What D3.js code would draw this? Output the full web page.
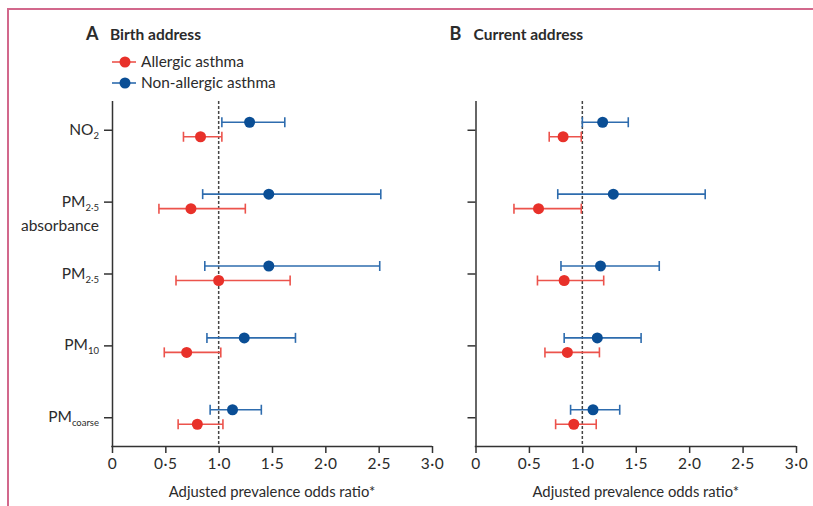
<!DOCTYPE html>
<html>
<head>
<meta charset="utf-8">
<script src="https://cdn.jsdelivr.net/npm/d3@7"></script>
<style>
  body { margin: 0; background: #fff; }
  svg { display: block; font-family: Lato, "Open Sans", sans-serif; }
</style>
</head>
<body>
<svg width="813" height="506"></svg>
<script>
// pollutant rows, top to bottom
let pollutants = ['NO2', 'PM2.5abs', 'PM2.5', 'PM10', 'PMcoarse'];
let rowLabels = [
  { base: 'NO', sub: '2' },
  { base: 'PM', sub: '2·5', line2: 'absorbance' },
  { base: 'PM', sub: '2·5' },
  { base: 'PM', sub: '10' },
  { base: 'PM', sub: 'coarse' }
];
let xTicks = [0, 0.5, 1, 1.5, 2, 2.5, 3];

// [odds ratio, lower CI, upper CI]
let birthAllergic = [[0.83, 0.67, 1.03], [0.74, 0.44, 1.25], [1.00, 0.60, 1.67], [0.70, 0.49, 1.02], [0.80, 0.62, 1.04]];
let birthNonAllergic = [[1.29, 1.03, 1.62], [1.47, 0.85, 2.52], [1.47, 0.87, 2.51], [1.24, 0.89, 1.72], [1.13, 0.92, 1.40]];
let currentAllergic = [[0.82, 0.69, 0.99], [0.59, 0.36, 0.99], [0.83, 0.58, 1.20], [0.86, 0.65, 1.16], [0.92, 0.75, 1.13]];
let currentNonAllergic = [[1.19, 1.00, 1.43], [1.29, 0.77, 2.15], [1.17, 0.80, 1.72], [1.14, 0.83, 1.55], [1.10, 0.89, 1.35]];

let legends = [
  { text: 'Allergic asthma', dot: '#e8312a', line: '#ec534c' },
  { text: 'Non-allergic asthma', dot: '#0a4e95', line: '#2e6cae' }
];

let textColor = '#2b2b2b';
let axisColor = '#333';

let svg = d3.select('svg');

// frame
svg.append('path')
  .attr('d', 'M8,506 V9 H813')
  .attr('fill', 'none')
  .attr('stroke', '#d2688c')
  .attr('stroke-width', 2);

let plotTop = 101, plotBottom = 446;

let yScale = d3.scalePoint()
  .domain(pollutants)
  .range([plotTop, plotBottom])
  .padding(0.4);

let panels = [
  { letter: 'A', title: 'Birth address', x0: 112, x1: 432, series: [birthAllergic, birthNonAllergic], labels: true },
  { letter: 'B', title: 'Current address', x0: 475.5, x1: 796, series: [currentAllergic, currentNonAllergic], labels: false }
];

let offsets = [7, -7.5];

panels.forEach(p => {
  let xScale = d3.scaleLinear().domain([0, 3]).range([p.x0, p.x1]);
  let g = svg.append('g');

  // title
  g.append('text')
    .attr('x', p.x0 - 26)
    .attr('y', 40)
    .style('font-size', '18px')
    .style('font-weight', 'bold')
    .attr('fill', textColor)
    .text(p.letter);
  g.append('text')
    .attr('x', p.x0 - 2)
    .attr('y', 40)
    .style('font-size', '15.5px')
    .style('font-weight', 'bold')
    .attr('fill', textColor)
    .text(p.title);

  // x axis
  let xAxis = d3.axisBottom(xScale)
    .tickValues(xTicks)
    .tickSize(7)
    .tickSizeOuter(0)
    .tickFormat(d => d === 0 ? '0' : d3.format('.1f')(d).replace('.', '·'));
  let xg = g.append('g')
    .attr('transform', `translate(0,${plotBottom})`)
    .call(xAxis);
  xg.select('.domain').attr('stroke', axisColor).attr('stroke-width', 1.5)
    .attr('d', `M${p.x0 - 0.75},0.5H${p.x1}`);
  xg.selectAll('.tick line').attr('stroke', axisColor).attr('stroke-width', 1.5);
  xg.selectAll('.tick text')
    .attr('y', 12)
    .style('font-size', '15.5px')
    .style('letter-spacing', '0.5px')
    .style('font-family', 'Lato, sans-serif')
    .attr('fill', textColor);

  // y axis
  let yAxis = d3.axisLeft(yScale)
    .tickSize(8)
    .tickSizeOuter(0)
    .tickFormat('');
  let yg = g.append('g')
    .attr('transform', `translate(${p.x0},0)`)
    .call(yAxis);
  yg.select('.domain').attr('stroke', axisColor).attr('stroke-width', 1.5)
    .attr('d', `M0.5,${plotTop}V${plotBottom}`);
  yg.selectAll('.tick line').attr('stroke', axisColor).attr('stroke-width', 1.5);

  if (p.labels) {
    pollutants.forEach((c, i) => {
      let lab = rowLabels[i];
      let yy = yScale(c);
      let t = g.append('text')
        .attr('x', p.x0 - 13)
        .attr('y', yy + 5)
        .attr('text-anchor', 'end')
        .style('font-size', '15.5px')
        .attr('fill', textColor);
      t.append('tspan').text(lab.base);
      t.append('tspan').attr('dy', 4).style('font-size', '9.5px').text(lab.sub);
      if (lab.line2) {
        g.append('text')
          .attr('x', p.x0 - 13)
          .attr('y', yy + 29)
          .attr('text-anchor', 'end')
          .style('font-size', '15.5px')
          .attr('fill', textColor)
          .text(lab.line2);
      }
    });
  }

  // reference line at 1
  g.append('line')
    .attr('x1', xScale(1)).attr('x2', xScale(1))
    .attr('y1', plotTop).attr('y2', plotBottom)
    .attr('stroke', '#444')
    .attr('stroke-width', 1.5)
    .attr('stroke-dasharray', '3,2');

  // axis title
  g.append('text')
    .attr('x', (p.x0 + p.x1) / 2)
    .attr('y', 497)
    .attr('text-anchor', 'middle')
    .style('font-size', '14.8px')
    .attr('fill', textColor)
    .text('Adjusted prevalence odds ratio*');

  // error bars + points
  p.series.forEach((s, si) => {
    let col = legends[si];
    let sg = g.append('g');
    let rows = sg.selectAll('g.row')
      .data(s)
      .enter()
      .append('g')
      .attr('class', 'row')
      .attr('transform', (d, i) => `translate(0,${yScale(pollutants[i]) + offsets[si]})`);
    rows.append('line')
      .attr('x1', d => xScale(d[1])).attr('x2', d => xScale(d[2]))
      .attr('stroke', col.line).attr('stroke-width', 1.6);
    rows.append('line')
      .attr('x1', d => xScale(d[1])).attr('x2', d => xScale(d[1]))
      .attr('y1', -5).attr('y2', 5)
      .attr('stroke', col.line).attr('stroke-width', 1.6);
    rows.append('line')
      .attr('x1', d => xScale(d[2])).attr('x2', d => xScale(d[2]))
      .attr('y1', -5).attr('y2', 5)
      .attr('stroke', col.line).attr('stroke-width', 1.6);
    rows.append('circle')
      .attr('cx', d => xScale(d[0]))
      .attr('r', 5.5)
      .attr('fill', col.dot);
  });
});

// legend
let legend = svg.selectAll('.legend')
  .data(legends)
  .enter()
  .append('g')
  .attr('class', 'legend')
  .attr('transform', (d, i) => `translate(112,${62 + i * 21})`);
legend.append('line')
  .attr('x1', 0).attr('x2', 24)
  .attr('stroke', d => d.line).attr('stroke-width', 1.6);
legend.append('circle')
  .attr('cx', 13).attr('r', 5.5)
  .attr('fill', d => d.dot);
legend.append('text')
  .attr('x', 29)
  .attr('y', 5)
  .style('font-size', '15.4px')
  .attr('fill', textColor)
  .text(d => d.text);
</script>
</body>
</html>
